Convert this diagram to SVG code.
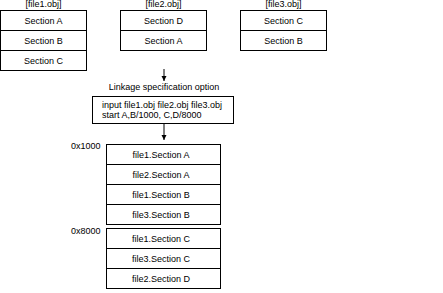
<svg xmlns="http://www.w3.org/2000/svg" width="443" height="293" viewBox="0 0 443 293">
<style>
rect{fill:#fff;stroke:#000;stroke-width:1}
line{stroke:#000;stroke-width:1}
text{font-family:"Liberation Sans",Arial,sans-serif;font-size:9px;fill:#000}
.c{text-anchor:middle}
</style>
<defs>
<marker id="ah" markerWidth="6" markerHeight="6" refX="5" refY="3" orient="auto" markerUnits="userSpaceOnUse">
<path d="M0,0.5 L5,3 L0,5.5 Z" fill="#000"/>
</marker>
</defs>
<rect x="0" y="0" width="443" height="293" style="stroke:none"/>
<g id="file1">
<text class="c" x="43.5" y="7">[file1.obj]</text>
<rect x="0.5" y="10.5" width="86" height="20"/>
<rect x="0.5" y="30.5" width="86" height="20"/>
<rect x="0.5" y="50.5" width="86" height="20"/>
<text class="c" x="43.5" y="23.5">Section A</text>
<text class="c" x="43.5" y="43.5">Section B</text>
<text class="c" x="43.5" y="63.5">Section C</text>
</g>
<g id="file2">
<text class="c" x="163.5" y="7">[file2.obj]</text>
<rect x="120.5" y="10.5" width="86" height="20"/>
<rect x="120.5" y="30.5" width="86" height="20"/>
<text class="c" x="163.5" y="23.5">Section D</text>
<text class="c" x="163.5" y="43.5">Section A</text>
</g>
<g id="file3">
<text class="c" x="283.5" y="7">[file3.obj]</text>
<rect x="240.5" y="10.5" width="86" height="20"/>
<rect x="240.5" y="30.5" width="86" height="20"/>
<text class="c" x="283.5" y="23.5">Section C</text>
<text class="c" x="283.5" y="43.5">Section B</text>
</g>
<g id="linkage">
<text class="c" x="164" y="90">Linkage specification option</text>
<rect x="92.5" y="96.5" width="141" height="27"/>
<text x="102" y="107.5">input file1.obj file2.obj  file3.obj</text>
<text x="102" y="118">start A,B/1000, C,D/8000</text>
</g>
<g id="mem1000">
<text x="71" y="148.5">0x1000</text>
<rect x="106.5" y="144.5" width="114" height="20"/>
<rect x="106.5" y="164.5" width="114" height="20"/>
<rect x="106.5" y="184.5" width="114" height="20"/>
<rect x="106.5" y="204.5" width="114" height="20"/>
<text class="c" x="161" y="157.5">file1.Section A</text>
<text class="c" x="161" y="177.5">file2.Section A</text>
<text class="c" x="161" y="197.5">file1.Section B</text>
<text class="c" x="161" y="217.5">file3.Section B</text>
</g>
<g id="mem8000">
<text x="71" y="233.5">0x8000</text>
<rect x="106.5" y="228.5" width="114" height="20"/>
<rect x="106.5" y="248.5" width="114" height="20"/>
<rect x="106.5" y="268.5" width="114" height="20"/>
<text class="c" x="161" y="241.5">file1.Section C</text>
<text class="c" x="161" y="261.5">file3.Section C</text>
<text class="c" x="161" y="281.5">file2.Section D</text>
</g>
<g id="connectors">
<line x1="164" y1="69" x2="164" y2="81" marker-end="url(#ah)"/>
<line x1="164" y1="124" x2="164" y2="140" marker-end="url(#ah)"/>
</g>
</svg>
